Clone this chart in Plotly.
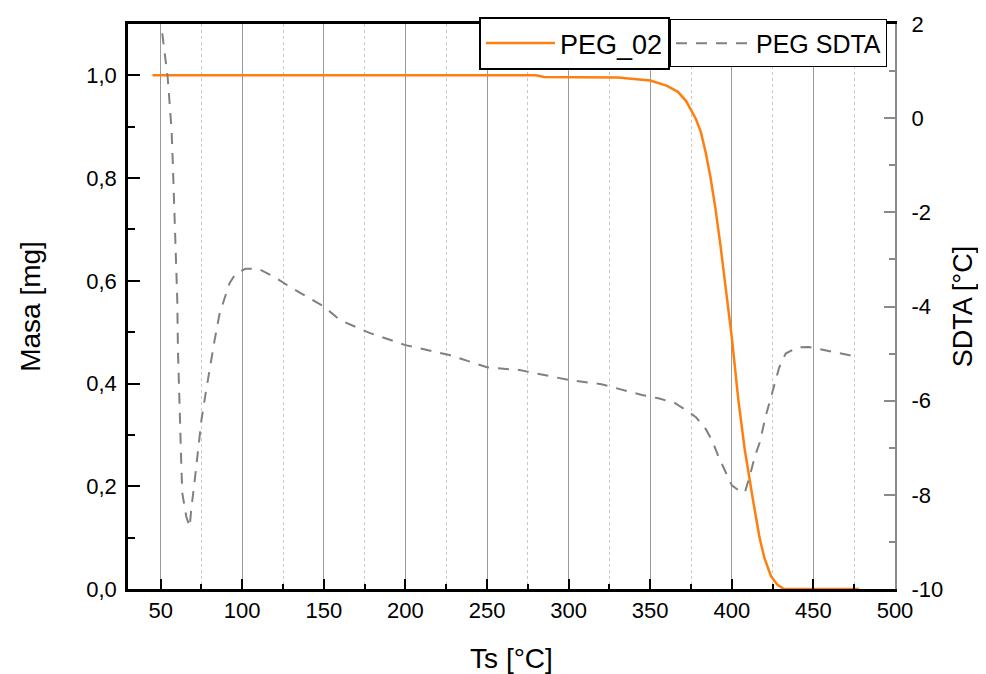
import plotly.graph_objects as go

# ---- data ----
mass_T = [45, 100, 200, 280, 285, 330, 340, 350, 360, 367, 372, 378, 381, 384, 387, 390, 393,
          397, 400, 404, 408, 413, 417, 420, 424, 428, 432, 478]
mass_mg = [1.0, 1.0, 1.0, 1.0, 0.997, 0.996, 0.993, 0.99, 0.98, 0.968, 0.95, 0.915, 0.89, 0.85,
           0.80, 0.74, 0.67, 0.563, 0.49, 0.368, 0.27, 0.173, 0.10, 0.06, 0.025, 0.008, 0.0, 0.0]

sdta_T = [51, 52.5, 54.3, 55.5, 56.7, 57.4, 58, 58.6, 59.6, 60.2, 60.6, 61.2, 61.7, 62.7, 63.3,
          65.7, 67.8, 68.7, 70.9, 72.9, 75, 77.6, 80.1, 83.1, 86.2, 92.3, 96, 102, 110, 120, 130,
          140, 150, 160, 178, 200, 227, 250, 270, 300, 320, 345, 355, 365, 372, 378, 384, 388,
          392, 396, 400, 404, 408, 411, 414, 417, 421, 425, 429, 433, 440, 447, 456, 463, 470, 478]
sdta_C = [1.8, 1.38, 0.87, 0.32, -0.25, -0.89, -1.46, -2.0, -3.15, -3.86, -4.92, -5.63, -6.69,
          -7.40, -7.97, -8.46, -8.68, -8.32, -7.69, -7.05, -6.41, -5.84, -5.28, -4.71, -4.14,
          -3.50, -3.3, -3.2, -3.2, -3.38, -3.6, -3.8, -4.0, -4.29, -4.56, -4.82, -5.03, -5.29,
          -5.35, -5.56, -5.65, -5.88, -5.95, -6.05, -6.2, -6.35, -6.6, -6.85, -7.2, -7.5, -7.8,
          -7.9, -7.95, -7.6, -7.2, -6.9, -6.3, -5.8, -5.3, -5.0, -4.87, -4.86, -4.93, -4.97,
          -5.02, -5.08]

x_ticks = [50, 100, 150, 200, 250, 300, 350, 400, 450, 500]
y2_ticks = [-10, -8, -6, -4, -2, 0, 2]
y2_labels = ["-10", "-8", "-6", "-4", "-2", "0", "2"]

FONT = "Liberation Sans, Arial, sans-serif"

fig = go.Figure()
fig.add_trace(go.Scatter(x=mass_T, y=mass_mg, name="PEG_02", mode="lines", showlegend=True,
                         line=dict(color="#ff7f0e", width=2.5), yaxis="y", legend="legend"))
fig.add_trace(go.Scatter(x=sdta_T, y=sdta_C, name="PEG SDTA", mode="lines", showlegend=True,
                         line=dict(color="#808080", width=2, dash="11px,9px"),
                         yaxis="y2", legend="legend2"))

fig.update_layout(
    width=978, height=666,
    margin=dict(l=120, r=91, t=16, b=85, autoexpand=False),
    paper_bgcolor="white", plot_bgcolor="white",
    separators=",.",
    showlegend=True,
    font=dict(family=FONT, size=22, color="black"),
    xaxis=dict(
        range=[30, 500], tickvals=x_ticks,
        showline=True, linecolor="black", linewidth=2.5, mirror=True,
        ticks="inside", ticklen=10, tickwidth=2, tickcolor="black",
        showgrid=True, gridcolor="#9a9a9a", gridwidth=1,
        minor=dict(dtick=25, tick0=25, ticks="inside", ticklen=5, tickwidth=1.5,
                   tickcolor="black", showgrid=True, gridcolor="#c8c8c8", griddash="dot",
                   gridwidth=1),
        zeroline=False,
        tickfont=dict(size=22),
        title=dict(text="Ts [°C]", font=dict(size=28), standoff=27),
    ),
    yaxis=dict(
        range=[0, 1.1], dtick=0.2, tick0=0, tickformat=".1f",
        showline=True, linecolor="black", linewidth=2.5,
        ticks="inside", ticklen=12, tickwidth=2, tickcolor="black",
        minor=dict(dtick=0.1, ticks="inside", ticklen=7, tickwidth=2, tickcolor="black"),
        showgrid=False, zeroline=False,
        tickfont=dict(size=22),
        ticklabelstandoff=4,
        title=dict(text="Masa [mg]", font=dict(size=28), standoff=38),
    ),
    yaxis2=dict(
        range=[-10, 2], overlaying="y", side="right",
        tickmode="array", tickvals=y2_ticks, ticktext=y2_labels,
        showline=True, linecolor="#8a8a8a", linewidth=2,
        ticks="inside", ticklen=11, tickwidth=2, tickcolor="#8a8a8a",
        minor=dict(dtick=1, tick0=1, ticks="inside", ticklen=6, tickwidth=2, tickcolor="#8a8a8a"),
        showgrid=False, zeroline=False,
        tickfont=dict(size=22),
        ticklabelstandoff=10,
        title=dict(text="SDTA [°C]", font=dict(size=27), standoff=11),
    ),
    legend=dict(x=0.4576, y=1.0124, xanchor="left", yanchor="top",
                bgcolor="white", bordercolor="black", borderwidth=2,
                font=dict(size=27), itemwidth=69, visible=True),
    legend2=dict(x=0.7066, y=1.008, xanchor="left", yanchor="top",
                 bgcolor="white", bordercolor="black", borderwidth=1,
                 font=dict(size=25), itemwidth=75, visible=True),
)

fig.write_html("out.html")
